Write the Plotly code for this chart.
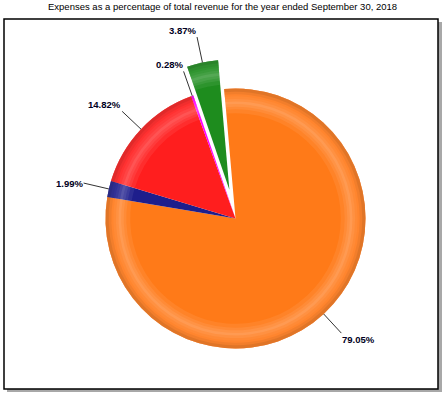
import math
import plotly.graph_objects as go

# ---- data ----
title_text = "Expenses as a percentage of total revenue for the year ended September 30, 2018"
slice_names = ["Slice 1", "Slice 2", "Slice 3", "Slice 4", "Slice 5"]
values = [79.05, 1.99, 14.82, 0.28, 3.87]
value_labels = ["79.05%", "1.99%", "14.82%", "0.28%", "3.87%"]
colors = ["#FF7A18", "#1E1E8C", "#FF1E1E", "#FF00FF", "#1E8C1E"]
pulls = [0, 0, 0, 0, 0.227]

# ---- layout constants ----
W, H = 445, 393
cx, cy, R = 235.5, 218.5, 130.0
start_deg = -5.0
lead = 26.0

def px(x):
    return x / W

def py(y):
    return 1 - y / H

half = R * (1 + max(pulls))
dom_x = [px(cx - half), px(cx + half)]
dom_y = [py(cy + half), py(cy - half)]

def pie(cols, hole=0.0):
    return go.Pie(
        labels=slice_names, values=values, sort=False, direction="clockwise",
        rotation=start_deg, pull=pulls, hole=hole,
        marker=dict(colors=cols, line=dict(width=0)),
        textinfo="none", hoverinfo="skip", showlegend=False,
        domain=dict(x=dom_x, y=dom_y),
    )

def rgba(hexc, a):
    h = hexc.lstrip("#")
    return "rgba(%d,%d,%d,%.3f)" % (int(h[0:2], 16), int(h[2:4], 16), int(h[4:6], 16), a)

fig = go.Figure()
fig.add_trace(pie(colors))
white = lambda a: ["rgba(255,255,255,%.3f)" % a] * len(values)
black = lambda a: ["rgba(0,0,0,%.3f)" % a] * len(values)
for h in [0.81, 0.84, 0.86, 0.88]:
    fig.add_trace(pie(white(0.07), h))
for h in [0.90, 0.92, 0.94]:
    fig.add_trace(pie([rgba(c, 0.28) for c in colors], h))
fig.add_trace(pie(black(0.05), 0.955))
fig.add_trace(pie(black(0.07), 0.975))

shapes = [
    dict(type="rect", xref="paper", yref="paper", x0=px(7), x1=px(442), y0=py(392), y1=py(22),
         fillcolor="#A8A8A8", line=dict(width=0), layer="below"),
    dict(type="rect", xref="paper", yref="paper", x0=px(4), x1=px(438), y0=py(389), y1=py(19),
         fillcolor="white", line=dict(color="black", width=1.5), layer="below"),
]
annotations = [
    dict(text=title_text, x=px(222.5), y=py(6), xref="paper", yref="paper",
         showarrow=False, xanchor="center", yanchor="middle",
         font=dict(family="Arial, Liberation Sans", size=9.5, color="black")),
]

total = sum(values)
cum = 0.0
for v, lab, p in zip(values, value_labels, pulls):
    mid = math.radians(start_deg + 360.0 * (cum + v / 2) / total)
    cum += v
    s, c = math.sin(mid), math.cos(mid)
    r0 = R * (1 + p)
    r1 = r0 + lead
    x0, y0 = cx + r0 * s, cy - r0 * c
    x1, y1 = cx + r1 * s, cy - r1 * c
    shapes.append(dict(type="line", xref="paper", yref="paper",
                       x0=px(x0), y0=py(y0), x1=px(x1), y1=py(y1),
                       line=dict(color="#333333", width=1), layer="above"))
    xa = "left" if s > 0 else "right"
    ya = "bottom" if c > 0.5 else ("top" if c < -0.5 else "middle")
    annotations.append(dict(text="<b>%s</b>" % lab, x=px(x1), y=py(y1), xref="paper", yref="paper",
                            showarrow=False, xanchor=xa, yanchor=ya, borderpad=0,
                            font=dict(family="Arial, Liberation Sans", size=9.5, color="#000022")))

fig.update_layout(
    width=W, height=H, autosize=False,
    margin=dict(l=0, r=0, t=0, b=0),
    paper_bgcolor="white", plot_bgcolor="white",
    shapes=shapes, annotations=annotations,
)
fig.write_html("out.html", config={"displayModeBar": False},
               post_script="document.body.style.margin='0';document.body.style.overflow='hidden';")
